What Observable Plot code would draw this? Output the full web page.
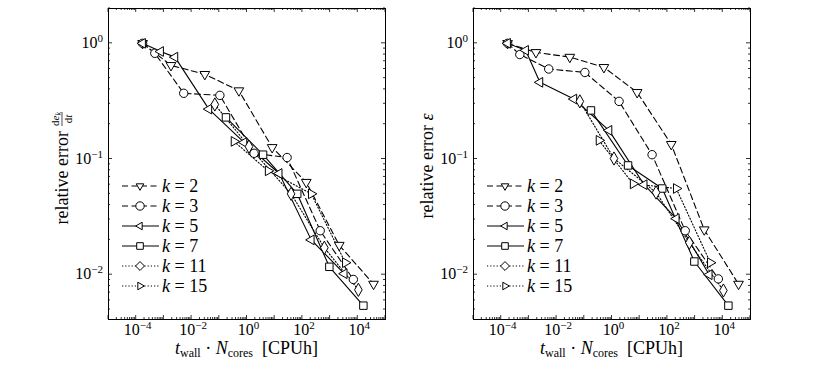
<!DOCTYPE html>
<html><head><meta charset="utf-8">
<script src="https://cdn.jsdelivr.net/npm/d3@7"></script>
<script src="https://cdn.jsdelivr.net/npm/@observablehq/plot@0.6"></script>
<style>
body{margin:0;background:#fff;}
#wrap{position:relative;width:830px;height:369px;overflow:hidden;}
#wrap svg{position:absolute;top:0;}
#wrap svg text{font-family:"Liberation Serif","DejaVu Serif","Times New Roman",serif;}
</style></head><body><div id="wrap"></div>
<script>
// ---- data ----
const kValues = [2, 3, 5, 7, 11, 15];
const xTicks = [1e-4, 1e-2, 1, 1e2, 1e4];
const yTicks = [1e-2, 1e-1, 1];

const cost_k2  = [1.7e-4, 1.8e-3, 0.030, 0.51, 8.1, 138, 2140, 37000];
const cost_k3  = [1.7e-4, 4.7e-4, 5.2e-3, 0.105, 1.8, 28, 440, 6900];
const cost_k5  = [1.7e-4, 7.6e-4, 2.5e-3, 0.042, 0.78, 14.5, 209, 3240];
const cost_k7  = [0.174, 3.8, 65, 940, 15900];
const cost_k11 = [0.069, 1.18, 39, 620, 10500];
const cost_k15 = [0.34, 5.8, 209, 3550];

const errDkdt_k2  = [1.0, 0.645, 0.54, 0.39, 0.126, 0.063, 0.018, 0.0083];
const errDkdt_k3  = [1.0, 0.82, 0.37, 0.355, 0.112, 0.103, 0.024, 0.0091];
const errDkdt_k5  = [1.0, 0.85, 0.76, 0.27, 0.139, 0.075, 0.020, 0.0102];
const errDkdt_k7  = [0.229, 0.109, 0.050, 0.0117, 0.0054];
const errDkdt_k11 = [0.296, 0.128, 0.050, 0.0171, 0.0074];
const errDkdt_k15 = [0.142, 0.079, 0.050, 0.0127];

const errEps_k2  = [1.0, 0.835, 0.76, 0.62, 0.377, 0.134, 0.0245, 0.0083];
const errEps_k3  = [1.0, 0.80, 0.60, 0.56, 0.315, 0.109, 0.024, 0.0092];
const errEps_k5  = [1.0, 0.87, 0.46, 0.33, 0.177, 0.060, 0.0305, 0.010];
const errEps_k7  = [0.263, 0.088, 0.0556, 0.013, 0.0054];
const errEps_k11 = [0.315, 0.101, 0.0513, 0.0189, 0.0073];
const errEps_k15 = [0.145, 0.061, 0.0556, 0.0127];

const costs = [cost_k2, cost_k3, cost_k5, cost_k7, cost_k11, cost_k15];
const errLeft = [errDkdt_k2, errDkdt_k3, errDkdt_k5, errDkdt_k7, errDkdt_k11, errDkdt_k15];
const errRight = [errEps_k2, errEps_k3, errEps_k5, errEps_k7, errEps_k11, errEps_k15];

// ---- styles ----
const sty = [
  {symbol: "triangle", rotate: 180, r: 3.6, dash: "6,3.5"},
  {symbol: "circle",   rotate: 0,   r: 4.2, dash: "6,3.5"},
  {symbol: "triangle", rotate: -90, r: 3.6, dash: null},
  {symbol: "square",   rotate: 0,   r: 4.2, dash: null},
  {symbol: "diamond",  rotate: 0,   r: 4.0, dash: "1.2,2"},
  {symbol: "triangle", rotate: 90,  r: 3.6, dash: "1.2,2"}
];
const symMap = {triangle: d3.symbolTriangle2, circle: d3.symbolCircle, square: d3.symbolSquare2, diamond: d3.symbolDiamond2};
const FONT = "\"Liberation Serif\", \"DejaVu Serif\", serif";

function makePanel(errs, offsetX, mLeft, mRight) {
  const rowsBy = kValues.map((k, i) => costs[i].map((c, j) => ({k, x: c, y: errs[i][j]})));
  const marks = [];
  rowsBy.forEach((rows, i) => {
    marks.push(Plot.line(rows, {x: "x", y: "y", stroke: "#000", strokeWidth: 1.1,
      strokeDasharray: sty[i].dash || undefined}));
  });
  rowsBy.forEach((rows, i) => {
    marks.push(Plot.dot(rows, {x: "x", y: "y", symbol: sty[i].symbol, rotate: sty[i].rotate,
      r: sty[i].r, stroke: "#000", fill: "#fff", strokeWidth: 1}));
  });
  marks.push(Plot.frame({stroke: "#000", strokeWidth: 1}));
  const p = Plot.plot({
    width: 415, height: 369,
    marginLeft: mLeft, marginRight: mRight, marginTop: 8, marginBottom: 50,
    x: {type: "log", domain: [1e-5, 1e5], axis: null},
    y: {type: "log", domain: [0.0041, 2.0], axis: null},
    style: {fontFamily: FONT, background: "transparent"},
    marks
  });
  p.style.left = offsetX + "px";
  document.getElementById("wrap").appendChild(p);
  return p;
}

function txt(sel, size, anchor) {
  return sel.append("text").attr("font-size", size).attr("font-family", FONT)
    .attr("text-anchor", anchor).attr("fill", "#000");
}

function addTicksAndLabels(p, mLeft, mRight, yLabelFn) {
  const sx = p.scale("x"), sy = p.scale("y");
  const x0 = mLeft, x1 = 415 - mRight, y0 = 8, y1 = 369 - 50;
  const svg = d3.select(p);
  const g = svg.append("g").attr("stroke", "#000").attr("stroke-width", 0.8);
  for (let e = -5; e <= 5; e++) {
    for (let m = 1; m <= 9; m++) {
      const v = m * Math.pow(10, e);
      if (v < 1e-5 || v > 1e5) continue;
      const px = sx.apply(v);
      const len = m === 1 ? 4 : 2;
      g.append("line").attr("x1", px).attr("x2", px).attr("y1", y1).attr("y2", y1 - len);
      g.append("line").attr("x1", px).attr("x2", px).attr("y1", y0).attr("y2", y0 + len);
    }
  }
  for (let e = -3; e <= 0; e++) {
    for (let m = 1; m <= 9; m++) {
      const v = m * Math.pow(10, e);
      if (v < 0.0041 || v > 2.0) continue;
      const py = sy.apply(v);
      const len = m === 1 ? 4 : 2;
      g.append("line").attr("x1", x0).attr("x2", x0 + len).attr("y1", py).attr("y2", py);
      g.append("line").attr("x1", x1).attr("x2", x1 - len).attr("y1", py).attr("y2", py);
    }
  }
  const sup = (t, v) => {
    const ex = Math.round(Math.log10(v));
    t.append("tspan").text("10");
    t.append("tspan").attr("dy", -6).attr("font-size", 11).text(ex < 0 ? "\u2212" + (-ex) : String(ex));
  };
  xTicks.forEach(v => {
    const t = txt(svg, 16, "middle").attr("x", sx.apply(v) + 2).attr("y", 335);
    sup(t, v);
  });
  yTicks.forEach(v => {
    const t = txt(svg, 16, "end").attr("x", x0 - 5).attr("y", sy.apply(v) + 5);
    sup(t, v);
  });
  // x label
  const xl = txt(svg, 18, "middle").attr("x", (x0 + x1) / 2).attr("y", 354);
  xl.append("tspan").attr("font-style", "italic").text("t");
  xl.append("tspan").attr("font-size", 12).attr("dy", 3).text("wall");
  xl.append("tspan").attr("dy", -3).text(" \u00b7 ");
  xl.append("tspan").attr("font-style", "italic").text("N");
  xl.append("tspan").attr("font-size", 12).attr("dy", 3).text("cores");
  xl.append("tspan").attr("dy", -3).text("  [CPUh]");
  yLabelFn(svg, x0, y0, y1);
  // legend
  const lg = svg.append("g");
  kValues.forEach((k, i) => {
    const yy = 186 + i * 20;
    const lx0 = x0 + 14, lx1 = x0 + 51, mx = x0 + 32;
    lg.append("line").attr("x1", lx0).attr("x2", lx1).attr("y1", yy).attr("y2", yy)
      .attr("stroke", "#000").attr("stroke-width", 1.1)
      .attr("stroke-dasharray", sty[i].dash);
    lg.append("path").attr("d", d3.symbol(symMap[sty[i].symbol], Math.PI * sty[i].r * sty[i].r)())
      .attr("transform", `translate(${mx},${yy}) rotate(${sty[i].rotate})`)
      .attr("fill", "#fff").attr("stroke", "#000").attr("stroke-width", 1);
    const t = txt(lg, 18, "start").attr("x", lx1 + 3).attr("y", yy + 6);
    t.append("tspan").attr("font-style", "italic").text("k");
    t.append("tspan").text(" = " + k);
  });
}

function yLabelLeft(svg, x0, y0, y1) {
  const g = svg.append("g").attr("transform", `translate(${x0 - 40},131) rotate(-90)`);
  txt(g, 18, "end").attr("x", 0).attr("y", 0).text("relative error");
  const num = txt(g, 11, "middle").attr("x", 12).attr("y", -9);
  num.append("tspan").text("d");
  num.append("tspan").attr("font-style", "italic").text("e");
  num.append("tspan").attr("font-size", 8).attr("dy", 2).attr("font-style", "italic").text("k");
  const den = txt(g, 11, "middle").attr("x", 12).attr("y", 4);
  den.append("tspan").text("d");
  den.append("tspan").attr("font-style", "italic").text("t");
  g.append("line").attr("x1", 5).attr("x2", 19).attr("y1", -6).attr("y2", -6)
    .attr("stroke", "#000").attr("stroke-width", 0.7);
}
function yLabelRight(svg, x0, y0, y1) {
  const g = svg.append("g").attr("transform", `translate(${x0 - 40},166) rotate(-90)`);
  const t = txt(g, 18, "middle").attr("x", 0).attr("y", 0);
  t.append("tspan").text("relative error ");
  t.append("tspan").attr("font-style", "italic").text("\u03b5");
}

const pL = makePanel(errLeft, 0, 108, 30);
addTicksAndLabels(pL, 108, 30, yLabelLeft);
const pR = makePanel(errRight, 415, 58, 80);
addTicksAndLabels(pR, 58, 80, yLabelRight);
</script></body></html>
